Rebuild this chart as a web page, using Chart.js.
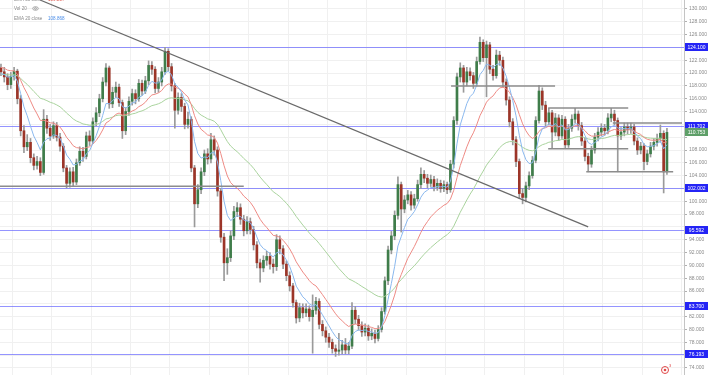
<!DOCTYPE html>
<html>
<head>
<meta charset="utf-8">
<script src="https://cdn.jsdelivr.net/npm/chart.js@4.4.0/dist/chart.umd.min.js"></script>
<style>
  html, body { margin: 0; padding: 0; background: #fff; overflow: hidden; }
  canvas { display: block; }
</style>
</head>
<body>
<canvas id="chart" width="710" height="375"></canvas>
<script>
// daily candles
const opens = [
  120.8,120.2,119.4,118.2,119.5,120.3,116.0,111.0,108.5,109.2,
  106.8,105.6,106.2,104.5,112.8,111.4,110.2,111.8,110.0,108.6,
  105.2,102.8,104.6,103.0,106.0,107.8,107.0,110.2,109.4,112.4,
  113.8,116.0,118.6,120.8,115.2,117.0,117.8,115.4,111.0,114.0,
  115.6,116.8,116.0,118.4,117.2,118.8,121.2,120.6,117.6,118.6,
  120.2,123.4,121.0,118.0,114.2,116.2,114.8,112.0,112.8,105.2,
  99.6,101.8,104.6,107.4,106.6,109.6,108.0,101.6,94.4,90.4,
  91.2,94.6,98.4,99.0,97.2,95.4,96.8,95.6,93.2,90.4,
  89.6,90.8,91.4,90.2,89.8,94.0,92.6,90.2,88.4,86.8,
  84.2,81.8,83.4,82.6,83.2,82.0,83.0,84.4,80.8,79.8,
  78.8,78.0,77.0,76.6,76.8,77.6,76.8,77.4,83.0,81.6,
  80.6,79.6,80.2,79.0,79.4,78.6,80.0,82.8,87.6,92.4,
  94.6,97.8,102.6,98.8,100.2,101.0,99.4,100.4,102.6,104.2,
  103.6,102.8,103.4,102.2,102.8,102.0,102.6,101.8,105.8,112.6,
  119.4,120.8,118.6,120.2,119.6,118.4,121.8,124.8,122.4,124.4,
  120.6,119.6,122.8,122.0,118.6,115.8,112.4,109.6,106.2,101.2,
  100.6,102.4,104.0,106.4,112.6,117.2,115.0,112.4,113.8,110.8,
  113.0,110.2,112.8,108.8,111.4,112.8,113.6,111.8,109.4,107.0,
  105.8,108.0,110.0,110.8,111.4,111.0,113.0,113.6,112.6,110.2,
  110.8,111.6,111.2,111.6,109.4,108.0,108.6,106.2,107.4,108.6,
  109.2,109.8,110.6,104.6
];
const highs = [
  121.4,120.9,119.9,120.1,120.9,120.6,116.5,111.8,110.4,109.8,
  107.4,107.0,106.8,114.3,113.4,112.0,112.4,112.3,110.6,109.0,
  105.6,105.2,105.3,106.6,108.5,108.4,110.8,111.0,113.0,114.6,
  116.7,119.3,121.5,121.1,117.8,118.6,118.3,115.8,114.6,116.3,
  117.5,117.4,119.0,118.9,119.5,121.9,121.8,121.0,119.3,120.9,
  124.0,123.8,121.5,118.4,116.9,116.8,115.3,113.9,113.2,105.6,
  102.6,105.2,108.0,108.2,110.6,110.2,108.5,102.0,95.0,92.6,
  95.4,99.2,99.8,99.6,97.8,97.6,97.4,96.1,93.7,91.0,
  91.5,92.2,92.0,91.0,94.8,94.6,93.1,90.7,89.0,87.2,
  84.6,84.1,84.0,84.0,83.7,85.4,85.0,84.8,81.4,80.4,
  79.4,78.5,77.6,79.4,78.3,78.6,78.0,84.2,83.6,82.2,
  81.2,80.9,80.7,80.1,79.9,80.6,83.4,88.2,93.0,95.3,
  98.5,103.8,103.0,100.9,101.7,101.5,101.1,103.3,105.2,104.8,
  104.2,104.1,103.9,103.5,103.3,103.2,103.0,106.4,113.2,120.0,
  121.6,121.2,120.9,120.8,120.1,122.5,125.6,125.2,125.0,124.8,
  121.2,123.6,123.4,122.5,119.1,116.3,112.9,110.1,106.6,102.0,
  103.0,104.6,107.0,113.2,118.1,117.7,115.6,114.5,114.2,113.7,
  113.5,113.4,113.2,112.0,113.5,114.5,114.1,112.3,109.9,107.5,
  108.6,110.6,111.5,112.1,112.0,113.7,114.5,114.2,113.0,111.5,
  112.2,112.2,112.2,112.0,109.9,109.2,109.0,108.0,109.2,109.8,
  110.5,111.9,111.0,111.4
];
const lows = [
  119.6,118.6,117.4,117.6,118.9,115.2,110.2,107.6,107.9,106.0,
  104.9,105.0,104.0,104.2,110.6,109.5,109.8,109.4,107.8,104.6,
  102.1,102.2,102.4,102.6,105.6,106.2,106.6,108.7,109.0,111.8,
  113.2,115.5,118.0,114.5,114.6,116.2,114.8,109.8,110.4,113.4,
  115.0,115.2,115.6,116.5,116.8,118.2,119.8,116.9,117.0,118.0,
  119.8,120.3,117.2,111.4,113.6,114.0,111.3,111.4,104.6,96.0,
  99.0,101.2,104.0,105.8,106.0,107.2,100.8,93.6,87.6,88.6,
  90.6,94.0,97.6,96.4,94.6,94.9,94.9,92.4,89.6,87.4,
  89.0,90.0,89.4,88.8,89.2,91.8,89.5,87.6,86.0,83.5,
  81.0,81.2,81.8,82.0,81.3,76.3,82.4,80.1,79.0,78.0,
  77.2,76.3,75.8,76.0,76.2,76.2,76.2,77.0,80.9,79.9,
  78.9,79.0,78.3,78.4,77.9,78.2,79.6,82.4,87.0,91.8,
  94.0,97.2,95.2,98.2,99.6,98.6,98.9,100.0,102.0,102.9,
  102.1,102.3,101.6,101.7,101.4,101.5,101.2,101.4,105.2,112.0,
  118.6,117.0,118.0,118.9,117.6,118.0,121.4,121.8,116.3,119.9,
  118.9,119.2,121.2,117.8,115.0,111.6,108.8,105.4,100.4,99.6,
  99.9,101.8,103.6,106.0,112.2,114.3,111.7,111.9,108.3,110.2,
  109.5,109.8,108.2,108.4,110.9,112.2,111.1,108.7,106.3,104.6,
  105.3,107.5,109.4,110.2,110.3,110.5,112.4,111.9,104.6,109.6,
  110.2,110.5,110.6,108.8,107.3,107.4,104.9,105.7,106.9,108.0,
  108.6,109.2,101.3,104.2
];
const closes = [
  120.2,119.4,118.2,119.5,120.3,116.0,111.0,108.5,109.2,106.8,
  105.6,106.2,104.5,112.8,111.4,110.2,111.8,110.0,108.6,105.2,
  102.8,104.6,103.0,106.0,107.8,107.0,110.2,109.4,112.4,113.8,
  116.0,118.6,120.8,115.2,117.0,117.8,115.4,111.0,114.0,115.6,
  116.8,116.0,118.4,117.2,118.8,121.2,120.6,117.6,118.6,120.2,
  123.4,121.0,118.0,114.2,116.2,114.8,112.0,112.8,105.2,99.6,
  101.8,104.6,107.4,106.6,109.6,108.0,101.6,94.4,90.4,91.2,
  94.6,98.4,99.0,97.2,95.4,96.8,95.6,93.2,90.4,89.6,
  90.8,91.4,90.2,89.8,94.0,92.6,90.2,88.4,86.8,84.2,
  81.8,83.4,82.6,83.2,82.0,83.0,84.4,80.8,79.8,78.8,
  78.0,77.0,76.6,76.8,77.6,76.8,77.4,83.0,81.6,80.6,
  79.6,80.2,79.0,79.4,78.6,80.0,82.8,87.6,92.4,94.6,
  97.8,102.6,98.8,100.2,101.0,99.4,100.4,102.6,104.2,103.6,
  102.8,103.4,102.2,102.8,102.0,102.6,101.8,105.8,112.6,119.4,
  120.8,118.6,120.2,119.6,118.4,121.8,124.8,122.4,124.4,120.6,
  119.6,122.8,122.0,118.6,115.8,112.4,109.6,106.2,101.2,100.6,
  102.4,104.0,106.4,112.6,117.2,115.0,112.4,113.8,110.8,113.0,
  110.2,112.8,108.8,111.4,112.8,113.6,111.8,109.4,107.0,105.8,
  108.0,110.0,110.8,111.4,111.0,113.0,113.6,112.6,110.2,110.8,
  111.6,111.2,111.6,109.4,108.0,108.6,106.2,107.4,108.6,109.2,
  109.8,110.6,104.6,110.75
];

// moving averages: periods (in these candles) and starting values at the left edge
const emaPeriods = [7, 17, 42];
const emaSeeds = [119.8, 121.0, 119.8];
const emaColors = ['#8ab8ee', '#ee8a84', '#a9d39d'];

// horizontal price levels (blue) and the last price
const levels = [124.1, 111.702, 102.002, 95.592, 83.7, 76.193];
const lastPrice = 110.753;

// grey drawn lines: flat segments and the falling trend line
const segLevels = [102.35, 118.0, 114.55, 108.2, 112.2, 104.6];
const segFrom = [-0.3, 137.2, 166.8, 166.8, 186.5, 178.4];
const segTo = [74.0, 168.9, 191.2, 191.2, 207.6, 204.9];
const trendX = [11.9, 179.0];
const trendY = [131.4, 96.0];

const priceTicks = [74,76,78,80,82,84,86,88,90,92,94,96,98,100,102,104,106,108,110,112,114,116,118,120,122,124,126,128,130];
const timeTicks = [9.5,21.5,33.5,45.5,57.5,69.5,81.5,93.5,105.5,117.5,129.5,141.5,153.5,165.5,177.5,189.5,201.5];

function ema(period, seed) {
  const k = 2 / (period + 1);
  let prev = seed;
  return closes.map(c => (prev = prev + (c - prev) * k));
}

const upColor = '#3f7d4a';
const downColor = '#9c3528';
const FONT = '"Liberation Sans", Arial, sans-serif';

const datasets = [];

emaPeriods.forEach((p, n) => {
  datasets.push({
    type: 'line',
    data: ema(p, emaSeeds[n]).map((v, i) => ({ x: i, y: v })),
    borderColor: emaColors[n],
    borderWidth: 1,
    pointRadius: 0,
    order: 1
  });
});

datasets.push({
  type: 'bar',
  data: closes.map((c, i) => ({ x: i, y: [lows[i], highs[i]] })),
  backgroundColor: '#9a9a9a',
  barThickness: 1,
  grouped: false,
  order: 4
});
datasets.push({
  type: 'bar',
  data: closes.map((c, i) => ({ x: i, y: [opens[i], c] })),
  backgroundColor: closes.map((c, i) => c >= opens[i] ? upColor : downColor),
  barThickness: 2,
  grouped: false,
  order: 3
});

segLevels.forEach((lv, n) => {
  datasets.push({
    type: 'line',
    data: [{ x: segFrom[n], y: lv }, { x: segTo[n], y: lv }],
    borderColor: '#8c8c8c',
    borderWidth: 1.5,
    pointRadius: 0,
    order: 0
  });
});
datasets.push({
  type: 'line',
  data: trendX.map((x, n) => ({ x: x, y: trendY[n] })),
  borderColor: '#6a6a6a',
  borderWidth: 1.2,
  pointRadius: 0,
  order: 0
});

const overlay = {
  id: 'overlay',
  beforeDatasetsDraw(chart) {
    const { ctx, chartArea, scales } = chart;
    ctx.save();
    ctx.strokeStyle = 'rgba(90,90,255,0.65)';
    ctx.lineWidth = 1;
    levels.forEach(lv => {
      const y = Math.round(scales.y.getPixelForValue(lv)) + 0.5;
      ctx.beginPath();
      ctx.moveTo(chartArea.left, y);
      ctx.lineTo(chartArea.right, y);
      ctx.stroke();
    });
    ctx.restore();
  },
  afterDraw(chart) {
    const { ctx, chartArea, scales } = chart;
    const x0 = chartArea.right + 1;
    ctx.save();
    ctx.font = '5px ' + FONT;
    ctx.textAlign = 'center';
    ctx.textBaseline = 'middle';
    const box = (v, color) => {
      const y = Math.round(scales.y.getPixelForValue(v));
      ctx.fillStyle = color;
      ctx.fillRect(x0, y - 4, 23, 8);
      ctx.fillStyle = '#ffffff';
      ctx.fillText(v.toFixed(3), x0 + 11.5, y + 0.5);
    };
    levels.forEach(lv => box(lv, '#2424f5'));
    box(lastPrice, '#5e9f68');

    // indicator legend, top left
    ctx.textAlign = 'left';
    ctx.font = '4.6px ' + FONT;
    ctx.fillStyle = '#8a8a8a';
    ctx.fillText('EMA 50 close', 14, 0);
    ctx.fillText('Vol 20', 14, 8.5);
    ctx.fillText('EMA 20 close', 14, 18.5);
    ctx.fillStyle = '#e05a50';
    ctx.fillText('109.207', 48, 0);
    ctx.fillStyle = '#4a8de8';
    ctx.fillText('108.868', 48, 18.5);
    ctx.strokeStyle = '#8a8a8a';
    ctx.lineWidth = 0.7;
    ctx.beginPath();
    ctx.ellipse(35.5, 8.5, 2.8, 1.8, 0, 0, Math.PI * 2);
    ctx.stroke();
    ctx.beginPath();
    ctx.arc(35.5, 8.5, 0.9, 0, Math.PI * 2);
    ctx.stroke();

    // alert marker near the last candle
    ctx.strokeStyle = '#e04848';
    ctx.lineWidth = 1;
    ctx.beginPath();
    ctx.arc(665, 370, 3.5, 0, Math.PI * 2);
    ctx.stroke();
    ctx.fillStyle = '#e04848';
    ctx.beginPath();
    ctx.arc(665, 370, 1.3, 0, Math.PI * 2);
    ctx.fill();
    ctx.font = '4px ' + FONT;
    ctx.fillText('3', 669, 366);
    ctx.restore();
  }
};

new Chart(document.getElementById('chart'), {
  type: 'bar',
  data: { datasets: datasets },
  options: {
    responsive: false,
    animation: false,
    layout: { padding: 0 },
    plugins: { legend: { display: false }, tooltip: { enabled: false } },
    scales: {
      x: {
        type: 'linear',
        min: -0.3,
        max: 208.2,
        offset: false,
        ticks: { display: false },
        border: { display: false },
        grid: { color: '#f0f0f0', drawTicks: false },
        afterBuildTicks: s => { s.ticks = timeTicks.map(v => ({ value: v })); },
        afterFit: s => { s.height = 0; s.paddingLeft = 0; s.paddingRight = 0; }
      },
      y: {
        position: 'right',
        min: 72.9,
        max: 131.4,
        afterBuildTicks: s => { s.ticks = priceTicks.map(v => ({ value: v })); },
        afterFit: s => { s.width = 26; s.paddingTop = 0; s.paddingBottom = 0; },
        ticks: {
          font: { size: 5, family: FONT },
          color: '#8a8a8a',
          padding: 2,
          callback: v => (levels.concat([lastPrice]).some(l => Math.abs(l - v) < 1) ? '' : v.toFixed(3))
        },
        border: { color: '#c4c4c4' },
        grid: { color: '#f0f0f0', tickColor: '#b0b0b0', tickLength: 3 }
      }
    }
  },
  plugins: [overlay]
});
</script>
</body>
</html>
